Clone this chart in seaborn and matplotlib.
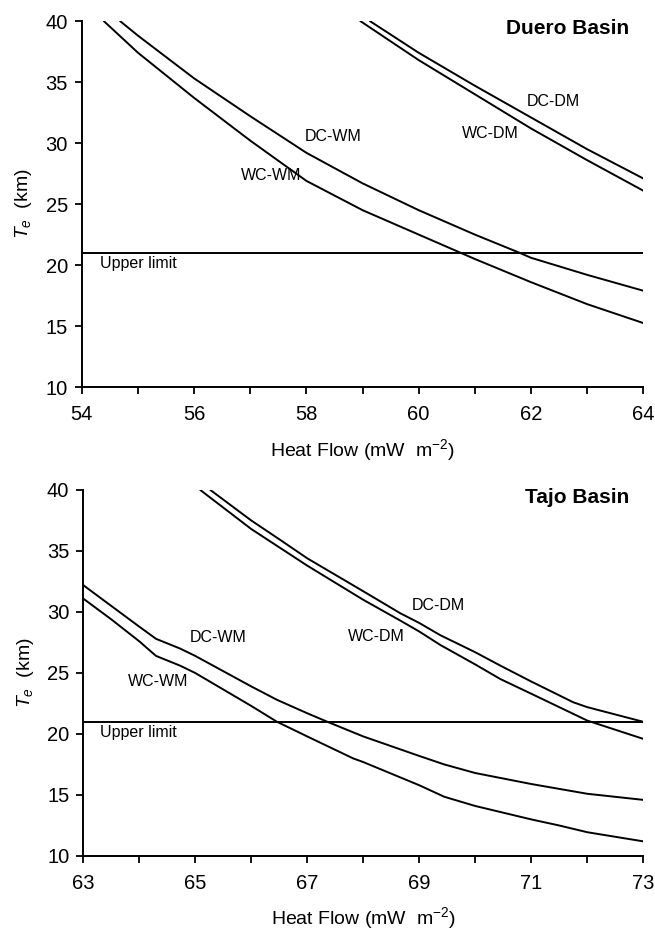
import numpy as np
import pandas as pd
import matplotlib
matplotlib.use("Agg")
import matplotlib.pyplot as plt
from matplotlib.ticker import MultipleLocator
import seaborn as sns

# ---------------- Data ----------------
# Duero Basin
duero_wcwm_x = [54.39, 55.0, 56.0, 57.0, 58.0, 59.0, 60.0, 60.75, 61.0, 62.0, 63.0, 64.0]
duero_wcwm_y = [40.0, 37.4, 33.7, 30.2, 26.9, 24.5, 22.5, 21.0, 20.5, 18.6, 16.8, 15.25]
duero_dcwm_x = [54.68, 55.0, 56.0, 57.0, 58.0, 59.0, 60.0, 61.0, 61.8, 62.0, 63.0, 64.0]
duero_dcwm_y = [40.0, 38.8, 35.3, 32.2, 29.2, 26.7, 24.5, 22.5, 21.0, 20.6, 19.2, 17.9]
duero_wcdm_x = [58.96, 60.0, 61.0, 62.0, 63.0, 64.0]
duero_wcdm_y = [40.0, 36.8, 34.0, 31.2, 28.6, 26.1]
duero_dcdm_x = [59.13, 60.0, 61.0, 62.0, 63.0, 64.0]
duero_dcdm_y = [40.0, 37.4, 34.7, 32.1, 29.5, 27.1]

# Tajo Basin
tajo_wcwm_x = [63.0, 63.5, 64.0, 64.3, 64.73, 65.0, 66.0, 66.46, 67.0, 67.82, 68.0, 69.0, 69.45, 70.0, 71.0, 71.5, 72.0, 73.0]
tajo_wcwm_y = [31.1, 29.4, 27.6, 26.4, 25.6, 25.0, 22.3, 21.0, 19.8, 18.0, 17.7, 15.8, 14.85, 14.1, 13.0, 12.5, 11.95, 11.2]
tajo_dcwm_x = [63.0, 63.5, 64.0, 64.3, 64.73, 65.0, 66.0, 66.46, 67.0, 67.36, 68.0, 69.0, 69.45, 70.0, 71.0, 72.0, 73.0]
tajo_dcwm_y = [32.2, 30.5, 28.8, 27.8, 27.0, 26.4, 23.9, 22.8, 21.7, 21.0, 19.8, 18.2, 17.5, 16.8, 15.9, 15.1, 14.6]
tajo_wcdm_x = [65.09, 66.0, 66.3, 67.0, 68.0, 68.66, 69.0, 69.375, 70.0, 70.45, 71.0, 72.0, 73.0]
tajo_wcdm_y = [40.0, 36.8, 35.9, 33.8, 31.0, 29.3, 28.4, 27.3, 25.7, 24.5, 23.3, 21.1, 19.6]
tajo_dcdm_x = [65.27, 66.0, 66.52, 67.0, 68.0, 68.66, 69.0, 69.375, 70.0, 70.45, 71.0, 71.75, 72.0, 73.0]
tajo_dcdm_y = [40.0, 37.5, 35.9, 34.4, 31.7, 29.9, 29.1, 28.1, 26.7, 25.6, 24.3, 22.6, 22.2, 21.0]

upper_limit = 21.0

duero_xlim = (54, 64)
tajo_xlim = (63, 73)
ylim = (10, 40)

duero_labels = {"DC-WM": (58.47, 30.5), "WC-WM": (57.37, 27.3),
                "WC-DM": (61.27, 30.8), "DC-DM": (62.4, 33.4)}
tajo_labels = {"DC-WM": (65.41, 27.9), "WC-WM": (64.34, 24.3),
               "WC-DM": (68.23, 28.0), "DC-DM": (69.34, 30.5)}


def make_df(pairs):
    frames = []
    for name, xs, ys in pairs:
        frames.append(pd.DataFrame({"hf": xs, "te": ys, "model": name}))
    return pd.concat(frames, ignore_index=True)


duero_df = make_df([("WC-WM", duero_wcwm_x, duero_wcwm_y),
                    ("DC-WM", duero_dcwm_x, duero_dcwm_y),
                    ("WC-DM", duero_wcdm_x, duero_wcdm_y),
                    ("DC-DM", duero_dcdm_x, duero_dcdm_y)])
tajo_df = make_df([("WC-WM", tajo_wcwm_x, tajo_wcwm_y),
                   ("DC-WM", tajo_dcwm_x, tajo_dcwm_y),
                   ("WC-DM", tajo_wcdm_x, tajo_wcdm_y),
                   ("DC-DM", tajo_dcdm_x, tajo_dcdm_y)])

# ---------------- Style ----------------
sns.set_style("ticks")
plt.rcParams["font.family"] = ["Liberation Sans", "DejaVu Sans"]
plt.rcParams["mathtext.fontset"] = "custom"
plt.rcParams["mathtext.it"] = "Liberation Sans:italic"
plt.rcParams["mathtext.rm"] = "Liberation Sans"
plt.rcParams["text.color"] = "black"
plt.rcParams["axes.labelcolor"] = "black"
plt.rcParams["xtick.color"] = "black"
plt.rcParams["ytick.color"] = "black"

fig = plt.figure(figsize=(6.55, 9.35), dpi=100)
ax1 = fig.add_axes([0.125, 0.586, 0.857, 0.3915])
ax2 = fig.add_axes([0.127, 0.0845, 0.855, 0.3915])


def draw(ax, df, xlim, major, title, labels, ul_x):
    palette = {m: "black" for m in df["model"].unique()}
    sns.lineplot(data=df, x="hf", y="te", hue="model", units="model",
                 estimator=None, sort=False, palette=palette, lw=1.4,
                 legend=False, ax=ax)
    ax.axhline(upper_limit, color="black", lw=1.4)
    ax.set_xlim(*xlim)
    ax.set_ylim(*ylim)
    ax.xaxis.set_major_locator(MultipleLocator(major))
    ax.xaxis.set_minor_locator(MultipleLocator(1))
    ax.yaxis.set_major_locator(MultipleLocator(5))
    for s in ["top", "right"]:
        ax.spines[s].set_visible(False)
    for s in ["left", "bottom"]:
        ax.spines[s].set_linewidth(1.4)
        ax.spines[s].set_color("black")
    ax.tick_params(axis="both", which="major", direction="out", length=5,
                   width=1.3, labelsize=14.5, colors="black", pad=5)
    ax.tick_params(axis="x", which="minor", direction="out", length=5, width=1.3,
                   colors="black")
    ax.tick_params(axis="x", which="major", pad=8)
    ax.set_xlabel("Heat Flow (mW  m$^{-2}$)", fontsize=14, labelpad=9, color="black")
    ax.set_ylabel("$T_e$  (km)", fontsize=14, labelpad=8, color="black")
    ax.text(0.975, 0.98, title, transform=ax.transAxes, ha="right", va="center",
            fontsize=15, fontweight="bold", color="black")
    for lab, (x, y) in labels.items():
        ax.text(x, y, lab, ha="center", va="center", fontsize=11.5, color="black")
    ax.text(ul_x, 20.1, "Upper limit", ha="left", va="center", fontsize=11.5,
            color="black")


draw(ax1, duero_df, duero_xlim, 2, "Duero Basin", duero_labels, 54.32)
draw(ax2, tajo_df, tajo_xlim, 2, "Tajo Basin", tajo_labels, 63.3)
ax2.set_xticks([63, 65, 67, 69, 71, 73])
ax2.xaxis.set_minor_locator(MultipleLocator(1))

fig.savefig("out.png", dpi=100)
